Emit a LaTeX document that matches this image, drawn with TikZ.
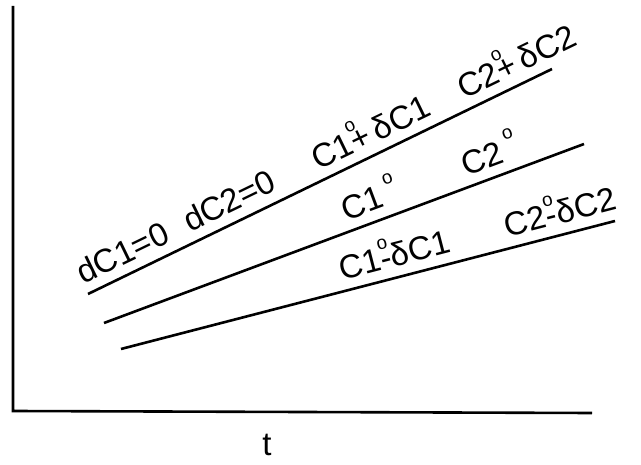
\documentclass[tikz,border=0pt]{standalone}
\usepackage{fontspec}
\setmainfont{Liberation Sans}
\newcommand\dgr{\rlap{\raisebox{0.62em}{\fontsize{19}{19}\selectfont o}}}
\newcommand\dgs{\raisebox{0.62em}{\fontsize{19}{19}\selectfont o}}
\tikzset{
  ln/.style={line width=2.6pt},
  lab/.style={font=\fontsize{33}{33}\selectfont, inner sep=0pt, sloped, above=9pt}
}
\begin{document}
\begin{tikzpicture}[x=1pt,y=-1pt]
\useasboundingbox (0,0) rectangle (641,465);
% axes
\coordinate (top) at (13,6);
\coordinate (orig) at (13,411);
\coordinate (xend) at (592,413);
\draw[ln] (top) -- (orig) -- (xend);
\node[font=\fontsize{33}{33}\selectfont, inner sep=0pt] (t) at (267,445) {t};
% lines
\coordinate (a1) at (88,294);  \coordinate (b1) at (552,69);
\coordinate (a2) at (104,323); \coordinate (b2) at (584,144);
\coordinate (a3) at (121,349); \coordinate (b3) at (615,221);
\draw[ln] (a1) -- (b1)
  node[lab,pos=0.095] (l1) {dC1=0}
  node[lab,pos=0.325] (l2) {dC2=0}
  node[lab,pos=0.63] (l3) {C1\dgr+\,δC1}
  node[lab,pos=0.945] (l4) {C2\dgr+\,δC2};
\draw[ln] (a2) -- (b2)
  node[lab,pos=0.57] (l5) {C1\,\dgs}
  node[lab,pos=0.82] (l6) {C2\,\dgs};
\draw[ln] (a3) -- (b3)
  node[lab,pos=0.565] (l7) {C1\dgr-δC1}
  node[lab,pos=0.9] (l8) {C2\dgr-δC2};
\end{tikzpicture}
\end{document}
